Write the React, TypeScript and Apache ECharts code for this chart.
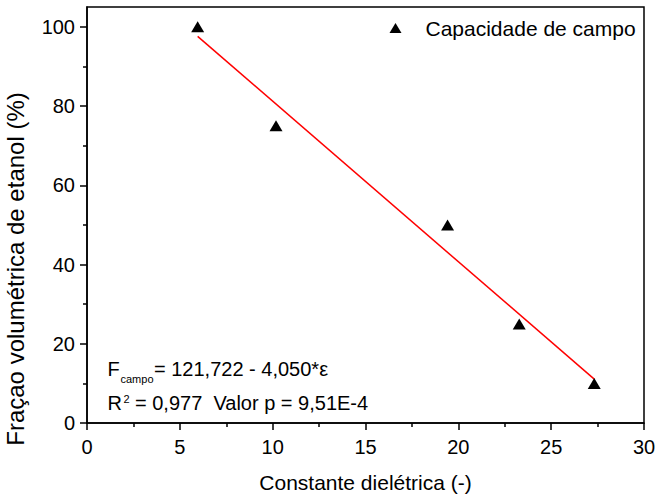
import React, { useEffect, useRef } from "react";
import * as echarts from "echarts";

const FONT = "'Liberation Sans', Arial, sans-serif";

const seriesName = "Capacidade de campo";
const dielectricX = [5.96, 10.18, 19.42, 23.28, 27.32];
const ethanolY = [100, 75, 50, 25, 10];
const fitX = [5.96, 27.32];
const fitY = [97.58, 11.07];
const yMajorTicks = [0, 20, 40, 60, 80, 100];
const yMinorTicks = [10, 30, 50, 70, 90];
const xLabel = "Constante dielétrica (-)";
const yLabel = "Fraçao volumétrica de etanol (%)";

export default function App() {
  const ref = useRef<HTMLDivElement>(null);
  useEffect(() => {
    if (!ref.current) return;
    const chart = echarts.init(ref.current, undefined, { renderer: "svg" });
    const black = "#000";
    chart.setOption({
      animation: false,
      backgroundColor: "#fff",
      textStyle: { fontFamily: FONT },
      grid: {
        left: 87,
        right: 13,
        top: 7,
        bottom: 73,
        show: true,
        borderColor: black,
        borderWidth: 1.5,
        containLabel: false,
        outerBoundsMode: "none",
      },
      legend: {
        data: [seriesName],
        left: 389.5,
        top: 17.5,
        padding: 0,
        icon: "triangle",
        itemWidth: 12,
        itemHeight: 10,
        selectedMode: false,
        itemStyle: { color: black },
        textStyle: { fontSize: 21, color: black, fontFamily: FONT, padding: [0, 0, 0, 19] },
      },
      xAxis: {
        type: "value",
        min: 0,
        max: 30,
        interval: 5,
        name: xLabel,
        nameLocation: "middle",
        nameGap: 49,
        nameTextStyle: { fontSize: 21, color: black, fontFamily: FONT },
        axisLine: { show: true, lineStyle: { color: black, width: 1.5 } },
        axisTick: { show: true, length: 7, lineStyle: { color: black, width: 1.5 } },
        minorTick: { show: true, splitNumber: 2, length: 4, lineStyle: { color: black, width: 1.5 } },
        axisLabel: { fontSize: 20, color: black, margin: 14, fontFamily: FONT },
        splitLine: { show: false },
        minorSplitLine: { show: false },
      },
      yAxis: [
        {
          type: "value",
          min: 0,
          max: 105,
          name: yLabel,
          nameLocation: "middle",
          nameRotate: 90,
          nameGap: 60,
          nameTextStyle: { fontSize: 24, color: black, fontFamily: FONT, padding: [0, 108, 0, 0] },
          axisLine: { show: true, lineStyle: { color: black, width: 1.5 } },
          axisTick: { show: true, length: 7, customValues: yMajorTicks, lineStyle: { color: black, width: 1.5 } },
          axisLabel: { fontSize: 20, color: black, margin: 12, customValues: yMajorTicks, fontFamily: FONT },
          splitLine: { show: false },
        },
        {
          type: "value",
          min: 0,
          max: 105,
          position: "left",
          axisLine: { show: false },
          axisTick: { show: true, length: 4, customValues: yMinorTicks, lineStyle: { color: black, width: 1.5 } },
          axisLabel: { show: false },
          splitLine: { show: false },
        },
      ],
      series: [
        {
          name: seriesName,
          type: "scatter",
          symbol: "triangle",
          symbolSize: [13, 11],
          itemStyle: { color: black, opacity: 1 },
          data: dielectricX.map((x, i) => [x, ethanolY[i]]),
          z: 3,
        },
        {
          name: "fit",
          type: "line",
          showSymbol: false,
          symbol: "none",
          lineStyle: { color: "#ff0000", width: 1.5 },
          data: fitX.map((x, i) => [x, fitY[i]]),
          z: 2,
        },
      ],
      graphic: [
        { type: "text", left: 107.5, top: 358.7, silent: true, style: { text: "F", fontSize: 20, fontFamily: FONT, fill: black } },
        { type: "text", left: 120.5, top: 373, silent: true, style: { text: "campo", fontSize: 11, fontFamily: FONT, fill: black } },
        { type: "text", left: 154, top: 358.7, silent: true, style: { text: "= 121,722 - 4,050*ε", fontSize: 20, fontFamily: FONT, fill: black } },
        { type: "text", left: 107.5, top: 392.7, silent: true, style: { text: "R", fontSize: 20, fontFamily: FONT, fill: black } },
        { type: "text", left: 123.5, top: 393.5, silent: true, style: { text: "2", fontSize: 11, fontFamily: FONT, fill: black } },
        { type: "text", left: 135, top: 392.7, silent: true, style: { text: "= 0,977\u00a0\u00a0Valor p = 9,51E-4", fontSize: 20, fontFamily: FONT, fill: black } },
      ],
    });
    return () => chart.dispose();
  }, []);
  return <div ref={ref} style={{ position: "absolute", left: 0, top: 0, width: 657, height: 496 }} />;
}
